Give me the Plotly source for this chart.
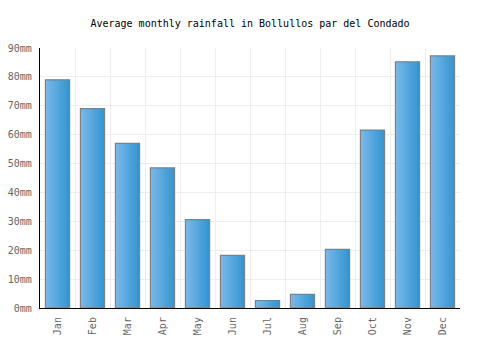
import plotly.graph_objects as go

months = ["Jan", "Feb", "Mar", "Apr", "May", "Jun", "Jul", "Aug", "Sep", "Oct", "Nov", "Dec"]
rainfall = [79, 69, 57, 48.5, 30.6, 18.2, 2.6, 4.7, 20.3, 61.6, 85.2, 87.3]
y_ticks = [0, 10, 20, 30, 40, 50, 60, 70, 80, 90]
y_labels = [f"{v}mm" for v in y_ticks]

FONT = "DejaVu Sans Mono"
bar_w = 0.69
n_stripes = 14
c_left = (120, 185, 235)
c_right = (55, 150, 208)

fig = go.Figure()
for k in range(n_stripes):
    t = k / (n_stripes - 1)
    col = tuple(round(a + (b - a) * t) for a, b in zip(c_left, c_right))
    fig.add_trace(go.Bar(
        x=months, y=rainfall,
        width=bar_w / n_stripes * 1.05,
        offset=-bar_w / 2 + k * bar_w / n_stripes,
        marker=dict(color="rgb(%d,%d,%d)" % col, line=dict(width=0)),
        hoverinfo="skip", showlegend=False,
    ))
fig.add_trace(go.Bar(
    x=months, y=rainfall, width=bar_w, offset=-bar_w / 2,
    marker=dict(color="rgba(0,0,0,0)", line=dict(color="#808080", width=1.2)),
    showlegend=False,
    hovertemplate="%{x}: %{y}mm<extra></extra>",
))

fig.update_layout(
    width=500, height=350,
    margin=dict(l=40, r=40, t=48, b=42),
    paper_bgcolor="white", plot_bgcolor="white",
    barmode="overlay",
    title=dict(text="Average monthly rainfall in Bollullos par del Condado",
               x=0.5, xanchor="center", y=1 - 23 / 350, yanchor="middle",
               font=dict(family=FONT, size=10, color="#000")),
    font=dict(family=FONT, size=10, color="#666"),
    xaxis=dict(
        type="category", categoryorder="array", categoryarray=months,
        tickson="boundaries", showgrid=True, gridcolor="#eeeeee", gridwidth=1,
        showline=True, linecolor="#000", linewidth=1.2,
        ticks="", tickangle=-90, ticklabelstandoff=4, automargin=False,
        tickfont=dict(family=FONT, size=10, color="#666"),
        range=[-0.5, 11.5], fixedrange=True,
    ),
    yaxis=dict(
        range=[0, 90], tickmode="array", tickvals=y_ticks, ticktext=y_labels,
        showgrid=True, gridcolor="#eeeeee", gridwidth=1,
        showline=True, linecolor="#000", linewidth=1.2, zeroline=False,
        ticks="", ticklabelstandoff=5, automargin=False,
        tickfont=dict(family=FONT, size=10, color="#666"),
        fixedrange=True,
    ),
)

fig.write_html("out.html")
